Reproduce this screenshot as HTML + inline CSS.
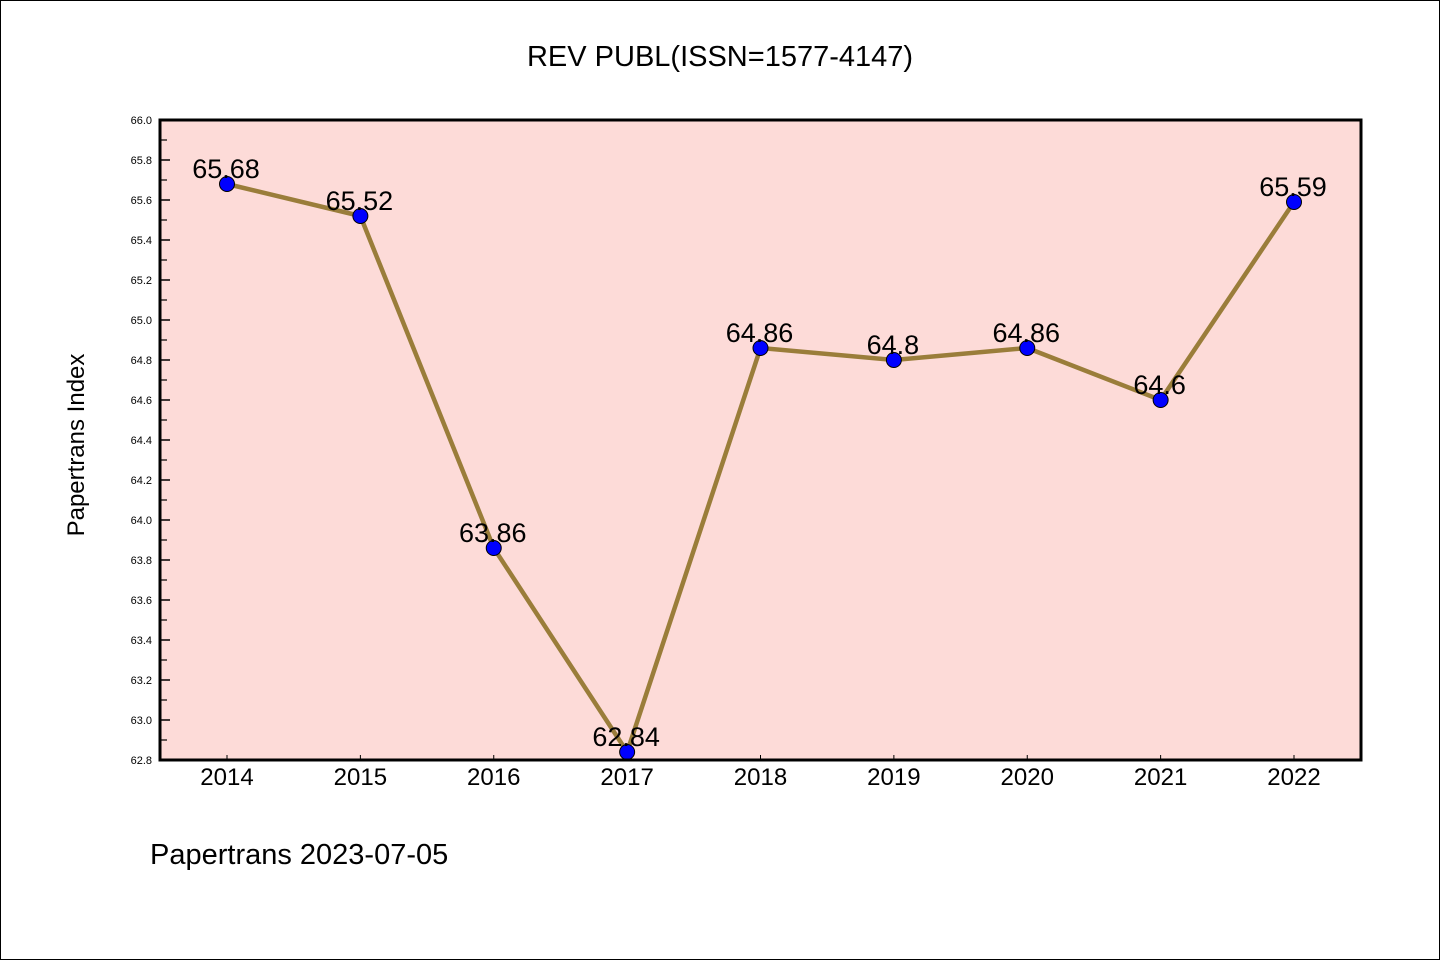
<!DOCTYPE html>
<html><head><meta charset="utf-8"><style>
body{margin:0;background:#fff}
svg{display:block}
text{font-family:"Liberation Sans","DejaVu Sans",sans-serif}
</style></head><body>
<svg id="chart" width="1440" height="960" viewBox="0 0 1440 960">
<rect x="0.5" y="0.5" width="1439" height="959" fill="#fff" stroke="#000"/>
<text x="720" y="66" text-anchor="middle" font-size="29">REV PUBL(ISSN=1577-4147)</text>
<rect x="160" y="120" width="1201" height="640" fill="#fddbd8"/>
<g id="yaxis"></g>
<g id="xaxis"></g>
<g id="series"></g>
<rect x="160" y="120" width="1201" height="640" fill="none" stroke="#000" stroke-width="3"/>
<text transform="translate(84,445) rotate(-90)" text-anchor="middle" font-size="24">Papertrans Index</text>
<text x="150" y="864" font-size="29">Papertrans 2023-07-05</text>
</svg>
<script>
const years = ["2014","2015","2016","2017","2018","2019","2020","2021","2022"];
const values = [65.68,65.52,63.86,62.84,64.86,64.8,64.86,64.6,65.59];
const valueLabels = ["65.68","65.52","63.86","62.84","64.86","64.8","64.86","64.6","65.59"];
const yTicks = ["62.8","63.0","63.2","63.4","63.6","63.8","64.0","64.2","64.4","64.6","64.8","65.0","65.2","65.4","65.6","65.8","66.0"];
const yMin = 62.8, yMax = 66.0;
const NS = "http://www.w3.org/2000/svg";
function yPos(v){ return 760 - (v - yMin) / (yMax - yMin) * 640; }
function xPos(i){ return 227 + i * (1294 - 227) / (years.length - 1); }
function mk(tag, attrs, parent){ const e = document.createElementNS(NS, tag); for (const k in attrs) e.setAttribute(k, attrs[k]); parent.appendChild(e); return e; }
const ya = document.getElementById('yaxis');
yTicks.forEach((t, i) => {
  const y = yPos(parseFloat(t));
  const tick = mk('line', {x1:160, x2:170, y1:y, y2:y, stroke:'#000', 'stroke-width':1.5}, ya);
  
  
  const lb = mk('text', {x:152, y:y+4, 'text-anchor':'end', 'font-size':11}, ya);
  lb.textContent = t;
  
  
  if (i < yTicks.length - 1) {
    const ym = yPos(parseFloat(t) + 0.1);
    const mn = mk('line', {x1:160, x2:167, y1:ym, y2:ym, stroke:'#000', 'stroke-width':1.2}, ya);
    
    
  }
});
const xa = document.getElementById('xaxis');
years.forEach((yr, i) => {
  const x = xPos(i);
  const tk = mk('line', {x1:x, x2:x, y1:760, y2:755, stroke:'#000', 'stroke-width':1}, xa);
  
  
  const lb = mk('text', {x:x, y:785, 'text-anchor':'middle', 'font-size':24}, xa);
  lb.textContent = yr;
  
  
});
const sg = document.getElementById('series');
const pts = values.map((v, i) => xPos(i) + ',' + yPos(v)).join(' ');
const line = mk('polyline', {points:pts, fill:'none', stroke:'#9a7d3a', 'stroke-width':4.5, 'stroke-linejoin':'round'}, sg);


values.forEach((v, i) => {
  const c = mk('circle', {cx:xPos(i), cy:yPos(v), r:7.5, fill:'#0000ff', stroke:'#000', 'stroke-width':1}, sg);
  
  
});
values.forEach((v, i) => {
  const t = mk('text', {x:xPos(i)-1, y:yPos(v)-6, 'text-anchor':'middle', 'font-size':27}, sg);
  t.textContent = valueLabels[i];
  
  
});
</script>
</body></html>
